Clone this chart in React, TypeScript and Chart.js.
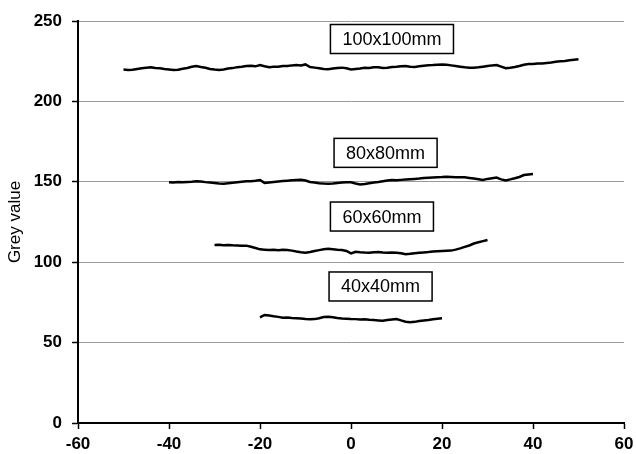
import React, { useEffect, useRef } from "react";
import { Chart, registerables } from "chart.js";

Chart.register(...registerables);

// x positions (mm) for each profile
const x100: number[] = [];
for (let i = -50; i <= 50; i++) x100.push(i);
const x80: number[] = [];
for (let i = -40; i <= 40; i++) x80.push(i);
const x60: number[] = [];
for (let i = -30; i <= 30; i++) x60.push(i);
const x40: number[] = [];
for (let i = -20; i <= 20; i++) x40.push(i);

const grey100 = [
  219.8, 219.5, 219.7, 220.2, 220.6, 220.9, 221.2, 220.8, 220.6, 220.1,
  219.8, 219.5, 219.7, 220.3, 220.8, 221.5, 222.0, 221.4, 220.9, 220.2,
  219.8, 219.5, 219.8, 220.4, 220.7, 221.3, 221.5, 222.0, 222.2, 221.8,
  222.6, 221.9, 221.3, 221.5, 221.6, 222.0, 222.0, 222.4, 222.6, 222.3,
  223.0, 221.4, 221.0, 220.6, 220.2, 220.0, 220.4, 220.8, 221.0, 220.6,
  219.8, 220.1, 220.4, 220.9, 220.8, 221.2, 221.2, 220.8, 220.9, 221.4,
  221.6, 221.9, 222.0, 221.6, 221.4, 221.8, 222.2, 222.5, 222.6, 222.8,
  223.0, 222.8, 222.4, 222.0, 221.6, 221.2, 221.0, 220.9, 221.2, 221.6,
  222.0, 222.4, 222.6, 221.6, 220.6, 220.9, 221.4, 222.0, 222.8, 223.2,
  223.2, 223.5, 223.6, 223.9, 224.2, 224.6, 224.9, 225.1, 225.6, 225.9,
  226.2,
];

const grey80 = [
  149.7, 149.6, 149.8, 149.7, 149.9, 150.0, 150.3, 150.2, 149.8, 149.5,
  149.2, 148.9, 148.8, 149.1, 149.4, 149.7, 150.0, 150.3, 150.4, 150.7,
  151.1, 149.3, 149.6, 149.9, 150.2, 150.5, 150.7, 150.9, 151.1, 151.3,
  150.8, 149.9, 149.5, 149.1, 148.9, 148.8, 149.0, 149.3, 149.5, 149.7,
  149.7, 148.9, 148.4, 148.7, 149.1, 149.5, 149.9, 150.4, 150.8, 151.1,
  150.9, 151.2, 151.4, 151.6, 151.8, 152.0, 152.3, 152.5, 152.7, 152.9,
  153.0, 153.2, 153.0, 152.8, 152.9, 152.8, 152.4, 152.0, 151.6, 151.1,
  151.8, 152.2, 152.6, 151.5, 150.9, 151.5, 152.2, 153.0, 154.2, 154.6,
  154.8,
];

const grey60 = [
  110.7, 110.8, 110.6, 110.7, 110.5, 110.4, 110.3, 110.3, 109.6, 108.8,
  108.0, 107.8, 107.6, 107.8, 107.5, 107.7, 107.6, 107.2, 106.6, 106.2,
  105.9, 106.3, 107.0, 107.5, 108.0, 108.4, 108.1, 107.8, 107.6, 107.0,
  105.5, 106.5, 106.2, 106.0, 105.9, 106.2, 106.3, 106.0, 105.9, 106.1,
  105.9, 105.6, 104.9, 105.2, 105.6, 105.9, 106.1, 106.3, 106.6, 106.8,
  107.0, 107.1, 107.2, 107.8, 108.6, 109.5, 110.4, 111.6, 112.4, 113.1,
  113.8,
];

const grey40 = [
  65.7, 67.2, 66.9, 66.4, 66.0, 65.5, 65.6, 65.3, 65.2, 65.0,
  64.7, 64.5, 64.6, 65.2, 65.9, 66.1, 65.7, 65.3, 65.0, 64.9,
  64.7, 64.6, 64.3, 64.5, 64.2, 64.0, 63.8, 63.6, 64.0, 64.4,
  64.7, 63.8, 63.0, 62.6, 62.9, 63.4, 63.8, 64.0, 64.5, 64.8,
  65.1,
];

const seriesNames = ["100x100mm", "80x80mm", "60x60mm", "40x40mm"];
const xTicks = [-60, -40, -20, 0, 20, 40, 60];
const yTicks = [0, 50, 100, 150, 200, 250];

// label box anchor points (data units)
const labelX = [9.0, 7.6, 6.8, 6.5];
const labelY = [238.8, 168.0, 128.4, 84.9];

const FONT = "'Liberation Sans', Arial, sans-serif";

const toPts = (xs: number[], ys: number[]) => xs.map((x, i) => ({ x, y: ys[i] }));

const labelPlugin = {
  id: "labelBoxes",
  afterDatasetsDraw(chart: any) {
    const { ctx, scales } = chart;
    ctx.save();
    ctx.font = `18px ${FONT}`;
    ctx.textAlign = "center";
    ctx.textBaseline = "middle";
    seriesNames.forEach((name, i) => {
      const cx = scales.x.getPixelForValue(labelX[i]);
      const cy = scales.y.getPixelForValue(labelY[i]);
      const w = ctx.measureText(name).width + 24;
      const h = 29;
      ctx.fillStyle = "#ffffff";
      ctx.fillRect(cx - w / 2, cy - h / 2, w, h);
      ctx.lineWidth = 1.5;
      ctx.strokeStyle = "#000000";
      ctx.strokeRect(cx - w / 2, cy - h / 2, w, h);
      ctx.fillStyle = "#000000";
      ctx.fillText(name, cx, cy + 1);
    });
    ctx.restore();
  },
};

export default function App() {
  const ref = useRef<HTMLCanvasElement | null>(null);

  useEffect(() => {
    if (!ref.current) return;
    const allX = [x100, x80, x60, x40];
    const allY = [grey100, grey80, grey60, grey40];
    const chart = new Chart(ref.current, {
      type: "line",
      data: {
        datasets: seriesNames.map((name, i) => ({
          label: name,
          data: toPts(allX[i], allY[i]),
          borderColor: "#000000",
          borderWidth: 2.5,
          pointRadius: 0,
          tension: 0,
          fill: false,
        })),
      },
      options: {
        responsive: false,
        animation: false,
        layout: { padding: { top: 21, right: 12, left: 0, bottom: 0 } },
        plugins: {
          legend: { display: false },
          tooltip: { enabled: false },
        },
        scales: {
          x: {
            type: "linear",
            min: -60,
            max: 60,
            afterBuildTicks: (s: any) => {
              s.ticks = xTicks.map((v) => ({ value: v }));
            },
            afterFit: (s: any) => {
              s.height = 31;
              s.paddingLeft = 0;
              s.paddingRight = 0;
            },
            ticks: {
              color: "#000000",
              font: { family: FONT, size: 17, weight: "bold" },
              padding: 5,
              maxRotation: 0,
              autoSkip: false,
            },
            grid: {
              drawOnChartArea: false,
              drawTicks: true,
              tickLength: 6,
              tickColor: "#000000",
              tickWidth: 1.5,
            },
            border: { color: "#000000", width: 2 },
          },
          y: {
            type: "linear",
            min: 0,
            max: 250,
            afterBuildTicks: (s: any) => {
              s.ticks = yTicks.map((v) => ({ value: v }));
            },
            afterFit: (s: any) => {
              s.width = 78;
              s.paddingTop = 0;
              s.paddingBottom = 0;
            },
            ticks: {
              color: "#000000",
              font: { family: FONT, size: 17, weight: "bold" },
              padding: 10,
              autoSkip: false,
            },
            grid: {
              color: "#9a9a9a",
              lineWidth: 1,
              drawTicks: true,
              tickLength: 6,
              tickColor: "#000000",
              tickWidth: 1.5,
            },
            border: { color: "#000000", width: 2 },
            title: {
              display: true,
              text: "Grey value",
              color: "#000000",
              font: { family: FONT, size: 17, weight: "normal" },
              padding: { top: 5, bottom: 0 },
            },
          },
        },
      },
      plugins: [labelPlugin],
    });
    return () => chart.destroy();
  }, []);

  return (
    <div style={{ position: "absolute", left: 0, top: 0, width: 636, height: 454, background: "#ffffff" }}>
      <canvas ref={ref} width={636} height={454} style={{ display: "block" }} />
    </div>
  );
}
